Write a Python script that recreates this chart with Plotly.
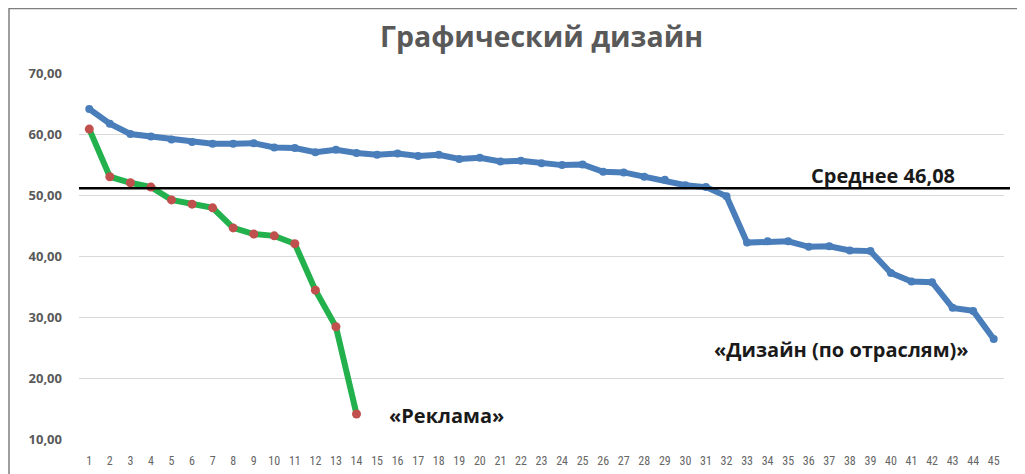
import plotly.graph_objects as go

categories = [str(i) for i in range(1, 46)]

design_values = [64.1, 61.7, 60.0, 59.6, 59.1, 58.7, 58.4, 58.4, 58.5, 57.8,
                 57.7, 57.0, 57.4, 56.9, 56.6, 56.8, 56.4, 56.6, 55.9, 56.1,
                 55.5, 55.6, 55.2, 54.9, 55.0, 53.8, 53.7, 53.0, 52.5, 51.6,
                 51.3, 49.8, 42.2, 42.4, 42.4, 41.5, 41.6, 40.9, 40.8, 37.2,
                 35.8, 35.7, 31.5, 31.0, 26.4]

ads_categories = categories[:14]
ads_values = [60.8, 53.0, 52.0, 51.3, 49.2, 48.5, 47.9, 44.6, 43.6, 43.3,
              42.0, 34.4, 28.4, 14.1]

mean_line_value = 51.1
mean_label = "Среднее 46,08"
title_text = "Графический дизайн"
design_label = "«Дизайн (по отраслям)»"
ads_label = "«Реклама»"
y_ticks = [10, 20, 30, 40, 50, 60, 70]

fig = go.Figure()

fig.add_trace(go.Scatter(
    x=categories, y=design_values, mode="lines+markers",
    line=dict(color="#4a7ebb", width=6),
    marker=dict(color="#4a7ebb", size=8),
    showlegend=False, hoverinfo="x+y"))

fig.add_trace(go.Scatter(
    x=ads_categories, y=ads_values, mode="lines+markers",
    line=dict(color="#22b14c", width=6),
    marker=dict(color="#c0504d", size=9),
    showlegend=False, hoverinfo="x+y"))

# page body has an 8px margin, so figure coords = page coords - 8
W, H = 1017, 466
L, T = 71, 65
pw, ph = 925, 366
R = W - L - pw
B = H - T - ph

fig.add_shape(type="line", xref="paper", yref="y",
              x0=0, x1=(1002 - L) / pw, y0=mean_line_value, y1=mean_line_value,
              line=dict(color="black", width=2.5))

# outer chart border
fig.add_shape(type="rect", xref="paper", yref="paper",
              x0=(1 - L) / pw, x1=1.2, y0=-0.3, y1=1 + (T - 0.5) / ph,
              line=dict(color="#7f7f7f", width=1.5), fillcolor="rgba(0,0,0,0)")

ann_font = dict(family="Open Sans", size=20, color="#1a1a1a", weight="bold")
fig.add_annotation(text=mean_label, xref="x", yref="y", x=38.6, y=mean_line_value,
                   yanchor="bottom", xanchor="center", showarrow=False,
                   font=ann_font, yshift=-3)
fig.add_annotation(text=design_label, xref="x", yref="y", x=36.6, y=24.6,
                   xanchor="center", yanchor="middle", showarrow=False,
                   font=ann_font)
fig.add_annotation(text=ads_label, xref="x", yref="y", x=17.4, y=13.8,
                   xanchor="center", yanchor="middle", showarrow=False,
                   font=ann_font)

fig.update_layout(
    width=W, height=H,
    margin=dict(l=L, r=R, t=T, b=B, autoexpand=False),
    paper_bgcolor="white", plot_bgcolor="white",
    separators=", ",
    title=dict(text=title_text, x=0.5, xref="paper", y=1 - 29 / H, yanchor="middle",
               automargin=False,
               font=dict(family="Open Sans", size=28.5, color="#595959", weight="bold")),
    xaxis=dict(type="category", range=[-0.5, 44.5], showgrid=False, zeroline=False,
               automargin=False, ticklabelstandoff=13,
               showline=False, ticks="",
               tickfont=dict(family="Liberation Sans Narrow, Roboto Condensed, Roboto", size=12, color="#666666")),
    yaxis=dict(range=[10, 70], tickvals=y_ticks, tickformat=".2f", showgrid=True,
               automargin=False,
               gridcolor="#d9d9d9", gridwidth=1, zeroline=False, showline=False,
               ticks="", ticklabelstandoff=16,
               tickfont=dict(family="Open Sans", size=13, color="#595959", weight="bold")),
)

fig.write_html("out.html")
